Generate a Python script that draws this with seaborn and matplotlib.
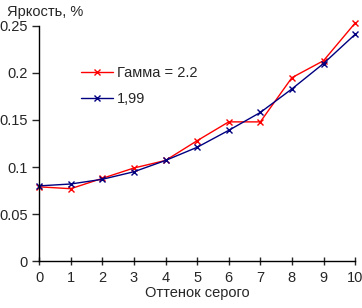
import numpy as np
import pandas as pd
import matplotlib
matplotlib.use("Agg")
import matplotlib.pyplot as plt
import seaborn as sns

# gray level vs brightness
shades = [0, 1, 2, 3, 4, 5, 6, 7, 8, 9, 10]
gamma_22 = [0.079, 0.077, 0.088, 0.099, 0.107, 0.128, 0.148, 0.148, 0.195, 0.213, 0.253]
gamma_199 = [0.080, 0.082, 0.087, 0.095, 0.107, 0.121, 0.139, 0.158, 0.183, 0.210, 0.241]
series_names = ["Гамма = 2.2", "1,99"]

df = pd.concat([
    pd.DataFrame({"shade": shades, "value": gamma_22, "series": series_names[0]}),
    pd.DataFrame({"shade": shades, "value": gamma_199, "series": series_names[1]}),
])

sns.set_style("white")
plt.rcParams["font.family"] = ["Liberation Sans", "DejaVu Sans"]

fig = plt.figure(figsize=(3.62, 3.08), dpi=100)
ax = fig.add_axes([0.108, 0.152, 0.873, 0.764])

sns.lineplot(data=df, x="shade", y="value", hue="series",
             palette={series_names[0]: "#ff0000", series_names[1]: "#000080"},
             marker="x", markersize=4, markeredgewidth=1, linewidth=1,
             dashes=False, ax=ax)
# seaborn paints marker edges white, give them the line colour
for ln in ax.lines:
    ln.set_markeredgecolor(ln.get_color())
    ln.set_clip_on(False)

ax.set_xlim(0, 10)
ax.set_ylim(0, 0.25)
ax.set_xticks(range(0, 11))
ax.set_yticks([0, 0.05, 0.1, 0.15, 0.2, 0.25])
ax.set_yticklabels(["0", "0.05", "0.1", "0.15", "0.2", "0.25"])
for s in ["top", "right"]:
    ax.spines[s].set_visible(False)
for s in ["left", "bottom"]:
    ax.spines[s].set_color("black")
    ax.spines[s].set_linewidth(1)
ax.tick_params(axis="x", direction="inout", length=6, width=1, labelsize=10.5, pad=4)
ax.tick_params(axis="y", direction="out", length=5, width=1, labelsize=10.5, pad=3)
ax.xaxis.set_ticks_position("bottom")
ax.yaxis.set_ticks_position("left")

ax.set_xlabel("Оттенок серого", fontsize=10.5, labelpad=1)
ax.set_ylabel("")
fig.text(0.02, 0.96, "Яркость, %", fontsize=10.5, ha="left", va="center")

leg = ax.legend(loc="upper left", bbox_to_anchor=(0.09, 0.885), frameon=False,
                fontsize=10.5, handlelength=2.2, handletextpad=0.3, labelspacing=0.8)
for h in leg.get_lines():
    h.set_markeredgecolor(h.get_color())

fig.savefig("out.png", dpi=100)
